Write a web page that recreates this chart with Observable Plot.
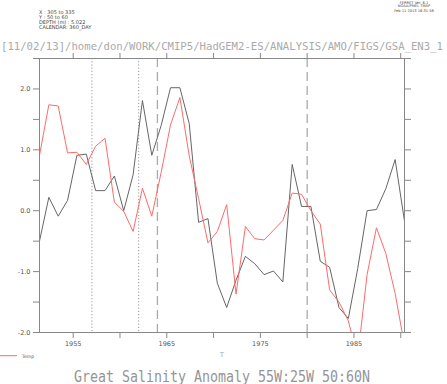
<!DOCTYPE html>
<html><head><meta charset="utf-8">
<script src="https://cdn.jsdelivr.net/npm/d3@7"></script>
<script src="https://cdn.jsdelivr.net/npm/@observablehq/plot@0.6"></script>
<style>body{margin:0;background:#fff} svg{display:block}</style>
</head><body><div id="chart"></div>
<script>
const years = [1951,1952,1953,1954,1955,1956,1957,1958,1959,1960,1961,1962,1963,1964,1965,1966,1967,1968,1969,1970,1971,1972,1973,1974,1975,1976,1977,1978,1979,1980,1981,1982,1983,1984,1985,1986,1987,1988,1989,1990];
const salinity = [-0.50,0.22,-0.09,0.17,0.91,0.93,0.33,0.33,0.57,0.00,0.59,1.81,0.91,1.40,2.02,2.02,1.43,-0.19,-0.13,-1.19,-1.59,-1.14,-0.75,-0.87,-1.05,-0.99,-1.17,0.76,0.07,0.07,-0.83,-0.93,-1.59,-1.77,-0.95,0.00,0.02,0.36,0.84,-0.17];
const temp = [0.91,1.74,1.72,0.95,0.96,0.76,1.06,1.19,0.14,-0.01,-0.34,0.37,-0.09,0.63,1.41,1.86,0.90,0.20,-0.53,-0.34,0.10,-1.37,-0.26,-0.46,-0.48,-0.32,-0.16,0.29,0.27,0.00,-0.22,-1.30,-1.50,-1.81,-2.41,-1.05,-0.28,-0.70,-1.36,-2.21];
const dottedYears = [1957, 1962];
const dashedYears = [1964, 1980];
const xTicks = [1955,1960,1965,1970,1975,1980,1985,1990];
const xLabels = [1955,1965,1975,1985];
const yTicks = [-2,-1.5,-1,-0.5,0,0.5,1,1.5,2,2.5];
const yLabels = [-2,-1,0,1,2];
const headerLeft = ["X : 305 to 335","Y : 50 to 60","DEPTH (m) : 5.022","CALENDAR: 360_DAY"];
const headerRight = ["FERRET Ver. 6.1","NOAA/PMEL TMAP","Feb 11 2013 16:31:58"];
const pathLine = "[11/02/13]/home/don/WORK/CMIP5/HadGEM2-ES/ANALYSIS/AMO/FIGS/GSA_EN3_1";
const title = "Great Salinity Anomaly 55W:25W 50:60N";
const xAxisLabel = "T";
const legendLabel = "Temp";

const midYear = 0.4;
const data = years.map((year, i) => ({t: year + midYear, s: salinity[i], temp: temp[i]}));
const fmt = d => d.toFixed(1);

const plot = Plot.plot({
  width: 447, height: 384,
  marginLeft: 39, marginRight: 43, marginTop: 58, marginBottom: 52,
  style: {fontFamily: "DejaVu Sans", fontSize: "6.5px", color: "#555", background: "white"},
  x: {domain: [1951.4, 1990.4]},
  y: {domain: [-2, 2.5]},
  marks: [
    Plot.ruleX(dottedYears, {stroke: "#999", strokeDasharray: "1.2,2"}),
    Plot.ruleX(dashedYears, {stroke: "#aaa", strokeWidth: 1.3, strokeDasharray: "9,5"}),
    Plot.line(data, {x: "t", y: "s", stroke: "#666", strokeWidth: 1, clip: true}),
    Plot.line(data, {x: "t", y: "temp", stroke: "#ff6a6a", strokeWidth: 1, clip: true}),
    Plot.frame({stroke: "#888"}),
    Plot.axisX({anchor: "bottom", ticks: xTicks, tickSize: 6, tickPadding: 3, stroke: "#888",
      tickFormat: d => xLabels.includes(d) ? String(d) : "", label: null}),
    Plot.axisX({anchor: "top", ticks: xTicks, tickSize: 6, stroke: "#888", tickFormat: () => "", label: null}),
    Plot.axisY({anchor: "left", ticks: yTicks, tickSize: 6, tickPadding: 3, stroke: "#888",
      tickFormat: d => yLabels.includes(d) ? fmt(d) : "", label: null}),
    Plot.axisY({anchor: "right", ticks: yTicks, tickSize: 6, stroke: "#888", tickFormat: () => "", label: null}),
    Plot.text([xAxisLabel], {frameAnchor: "bottom", text: d => d, dy: 24, fill: "#aaa", fontSize: 7})
  ]
});

const svg = d3.select(plot);
svg.append("text").attr("x", 1).attr("y", 49.5).text(pathLine).attr("text-anchor", "start")
  .attr("font-family", "DejaVu Sans Mono").attr("font-size", 10.6).attr("fill", "#aaa")
  .attr("textLength", 442).attr("lengthAdjust", "spacingAndGlyphs");
headerLeft.forEach((s, i) => {
  svg.append("text").attr("x", 39).attr("y", 13.5 + i * 5).text(s).attr("text-anchor", "start")
    .attr("font-family", "DejaVu Sans").attr("font-size", 5).attr("fill", "#444");
});
headerRight.forEach((s, i) => {
  svg.append("text").attr("x", 414).attr("y", [3.5, 7.3, 11.8][i]).text(s)
    .attr("text-anchor", "middle").attr("font-family", "DejaVu Sans").attr("font-size", 3.6).attr("fill", "#444");
});
svg.append("line").attr("x1", 0).attr("x2", 17).attr("y1", 355.7).attr("y2", 355.7)
  .attr("stroke", "#ff6a6a").attr("stroke-width", 1);
svg.append("text").attr("x", 22).attr("y", 357.5).text(legendLabel).attr("text-anchor", "start")
  .attr("font-family", "DejaVu Sans").attr("font-size", 4.5).attr("fill", "#555");
svg.append("text").attr("x", 222).attr("y", 381.5).text(title)
  .attr("text-anchor", "middle").attr("font-family", "DejaVu Sans Mono").attr("font-size", 15)
  .attr("fill", "#959595").attr("textLength", 296).attr("lengthAdjust", "spacingAndGlyphs");

document.getElementById("chart").appendChild(plot);
</script>
</body></html>
